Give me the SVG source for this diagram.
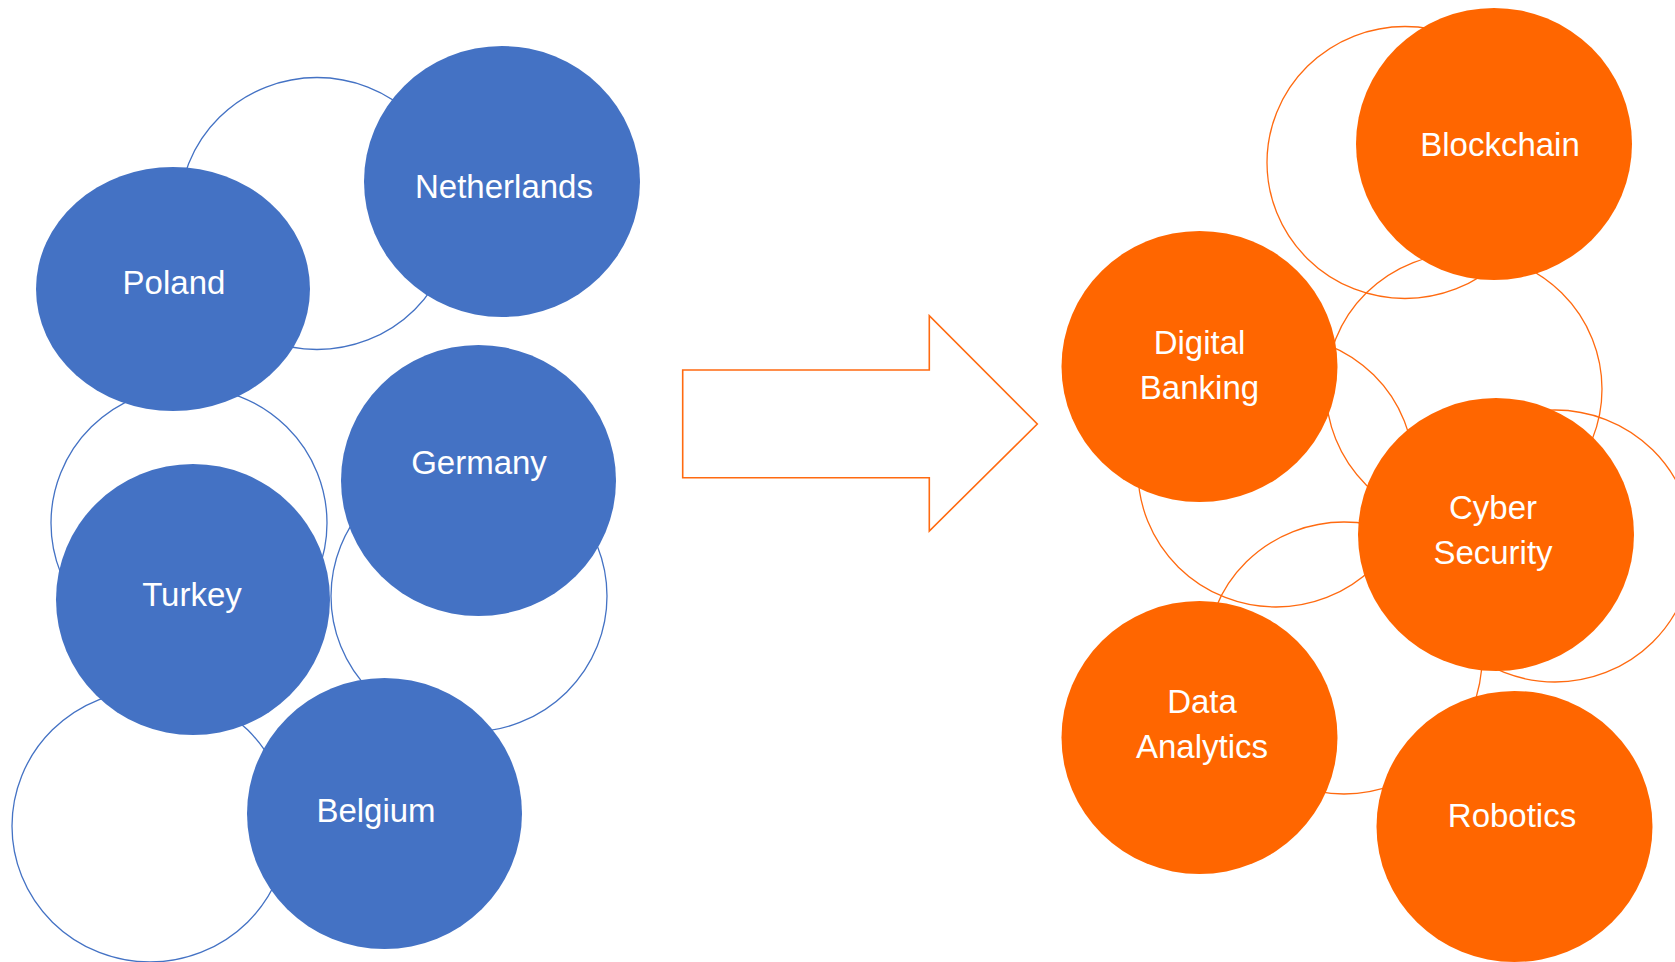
<svg xmlns="http://www.w3.org/2000/svg" width="1675" height="962" viewBox="0 0 1675 962">
<style>
.bo{fill:none;stroke:#4472C4;stroke-width:1.3}
.oo{fill:none;stroke:#FF6A10;stroke-width:1.3}
.bf{fill:#4472C4}
.of{fill:#FF6600}
.t{fill:#FFFFFF;font-family:"Liberation Sans",Arial,sans-serif;font-size:33px;text-anchor:middle}
</style>
<rect width="1675" height="962" fill="#FFFFFF"/>
<g id="outlines-left">
<ellipse class="bo" cx="317" cy="213.5" rx="138" ry="136"/>
<ellipse class="bo" cx="189" cy="523" rx="138" ry="136"/>
<ellipse class="bo" cx="469" cy="596" rx="138" ry="136"/>
<ellipse class="bo" cx="150" cy="826" rx="138" ry="136"/>
</g>
<g id="outlines-right">
<ellipse class="oo" cx="1405" cy="162.5" rx="138" ry="136"/>
<ellipse class="oo" cx="1464" cy="389" rx="138" ry="136"/>
<ellipse class="oo" cx="1276" cy="471" rx="138" ry="136"/>
<ellipse class="oo" cx="1344" cy="658" rx="138" ry="136"/>
<ellipse class="oo" cx="1555" cy="546" rx="138" ry="136"/>
</g>
<g id="netherlands"><ellipse class="bf" cx="502" cy="181.5" rx="138" ry="135.5"/><text class="t" x="504" y="198">Netherlands</text></g>
<g id="poland"><ellipse class="bf" cx="173" cy="289" rx="137" ry="122"/><text class="t" x="174" y="294">Poland</text></g>
<g id="germany"><ellipse class="bf" cx="478.5" cy="480.5" rx="137.5" ry="135.5"/><text class="t" x="479" y="474">Germany</text></g>
<g id="turkey"><ellipse class="bf" cx="193" cy="599.5" rx="137" ry="135.5"/><text class="t" x="192" y="606">Turkey</text></g>
<g id="belgium"><ellipse class="bf" cx="384.5" cy="813.5" rx="137.5" ry="135.5"/><text class="t" x="376" y="822">Belgium</text></g>
<g id="connectors">
<path d="M682.7,370 L929.3,370 L929.3,315.7 L1037.3,424 L929.3,531 L929.3,477.7 L682.7,477.7 Z" fill="#FFFFFF" stroke="#FF6A10" stroke-width="1.6" stroke-linejoin="miter"/>
</g>
<g id="blockchain"><ellipse class="of" cx="1494" cy="144" rx="138" ry="136"/><text class="t" x="1500" y="156">Blockchain</text></g>
<g id="digital-banking"><ellipse class="of" cx="1199.5" cy="366.5" rx="138" ry="135.5"/><text class="t" x="1199.5" y="354">Digital</text><text class="t" x="1199.5" y="399">Banking</text></g>
<g id="cyber-security"><ellipse class="of" cx="1496" cy="534.5" rx="138" ry="136.5"/><text class="t" x="1493" y="519">Cyber</text><text class="t" x="1493" y="564">Security</text></g>
<g id="data-analytics"><ellipse class="of" cx="1199.5" cy="737.5" rx="138" ry="136.5"/><text class="t" x="1202" y="713">Data</text><text class="t" x="1202" y="758">Analytics</text></g>
<g id="robotics"><ellipse class="of" cx="1514.5" cy="826.5" rx="138" ry="135.5"/><text class="t" x="1512" y="827">Robotics</text></g>
</svg>
